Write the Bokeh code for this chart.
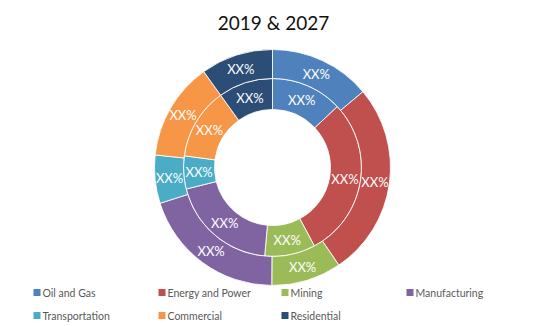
import numpy as np
from bokeh.plotting import figure
from bokeh.models import ColumnDataSource
from bokeh.core.properties import value
from bokeh.embed import file_html
from bokeh.resources import INLINE

categories = ["Oil and Gas", "Energy and Power", "Mining", "Manufacturing",
              "Transportation", "Commercial", "Residential"]
share_2019 = [13.0, 29.2, 9.2, 19.7, 6.0, 13.0, 9.9]   # inner ring
share_2027 = [13.9, 26.6, 9.6, 20.0, 6.6, 13.4, 9.9]   # outer ring
labels_2019 = ["XX%"] * 7
labels_2027 = ["XX%"] * 7
colors = ["#4F81BD", "#C0504D", "#9BBB59", "#8064A2", "#4BACC6", "#F79646", "#2C4D75"]
title_text = "2019 & 2027"

W, H = 544, 326
cx, cy = 272, H - 167
r0, r1, r2 = 58, 89, 118
FONT = "Lato"

p = figure(width=W, height=H, x_range=(0, W), y_range=(0, H), min_border=0,
           x_axis_type=None, y_axis_type=None, toolbar_location=None,
           output_backend="svg")
p.outline_line_color = None
p.grid.visible = False


def ring(shares, rin, rout, labels):
    s = np.array(shares, float)
    frac = s / s.sum()
    cum = np.concatenate([[0], np.cumsum(frac)]) * 2 * np.pi
    t1, t2 = cum[:-1], cum[1:]
    mid = (t1 + t2) / 2
    rm = (rin + rout) / 2
    src = ColumnDataSource(dict(
        start=np.pi / 2 - t2, end=np.pi / 2 - t1, color=colors,
        cat=categories, lx=cx + rm * np.sin(mid), ly=cy + rm * np.cos(mid),
        label=labels))
    p.annular_wedge(x=cx, y=cy, inner_radius=rin, outer_radius=rout,
                    start_angle="start", end_angle="end", fill_color="color",
                    line_color="white", line_width=1, line_alpha=0.85,
                    source=src)
    p.text(x="lx", y="ly", text="label", source=src, text_color="white",
           text_font=value(FONT), text_font_size="13px", text_align="center",
           text_baseline="middle")


ring(share_2019, r0, r1, labels_2019)
ring(share_2027, r1, r2, labels_2027)

# title
p.text(x=[273], y=[H - 22], text=[title_text], text_font=value(FONT),
       text_font_size="19px", text_color="#111111", text_align="center",
       text_baseline="middle")

# legend
col_x = [33, 158, 281, 406]
row_y = [H - 292, H - 315]
lx, ly = [], []
for i in range(len(categories)):
    lx.append(col_x[i % 4])
    ly.append(row_y[i // 4])
lsrc = ColumnDataSource(dict(x=np.array(lx) + 3.5, y=ly, tx=np.array(lx) + 9,
                             color=colors, cat=categories))
p.rect(x="x", y="y", width=7, height=7, fill_color="color", line_color=None,
       source=lsrc)
p.text(x="tx", y="y", text="cat", source=lsrc, text_font=value(FONT),
       text_font_size="10.5px", text_color="#595959", text_align="left",
       text_baseline="middle")

open("out.html", "w").write(file_html(p, INLINE))
